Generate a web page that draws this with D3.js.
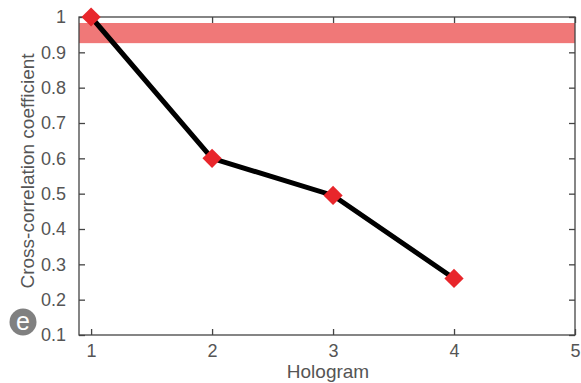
<!DOCTYPE html>
<html>
<head>
<meta charset="utf-8">
<script src="https://cdn.jsdelivr.net/npm/d3@7"></script>
<style>
  body { margin: 0; background: #fff; }
  text { font-family: "Liberation Sans", Arial, sans-serif; }
</style>
</head>
<body>
<svg id="chart" width="581" height="383"></svg>
<script>
// hologram index vs cross-correlation
const holograms = [1, 2, 3, 4];
const coeffs = [1.0, 0.6, 0.495, 0.26];
const xTicks = [1, 2, 3, 4, 5];
const yTicks = [0.1, 0.2, 0.3, 0.4, 0.5, 0.6, 0.7, 0.8, 0.9, 1];
const band = [0.926, 0.983];

const svg = d3.select("#chart");
const m = {left: 79, right: 6, top: 17, bottom: 48};
const W = 581, H = 383;

const x = d3.scaleLinear().domain([0.9, 5]).range([m.left, W - m.right]);
const y = d3.scaleLinear().domain([0.1, 1]).range([H - m.bottom, m.top]);

const axisCol = "#444", labCol = "#555";

// shaded band
svg.append("rect")
  .attr("x", x(0.9)).attr("width", x(5) - x(0.9))
  .attr("y", y(band[1])).attr("height", y(band[0]) - y(band[1]))
  .attr("fill", "#f07878");

// frame
svg.append("rect")
  .attr("x", x(0.9)).attr("y", y(1))
  .attr("width", x(5) - x(0.9)).attr("height", y(0.1) - y(1))
  .attr("fill", "none").attr("stroke", axisCol).attr("stroke-width", 1.3);

// axes (ticks inward)
const fmt = d => d === 1 ? "1" : d3.format(".1f")(d);
const gx = svg.append("g").attr("transform", `translate(0,${y(0.1)})`)
  .call(d3.axisBottom(x).tickValues(xTicks).tickSize(-6).tickPadding(9).tickFormat(d3.format("d")));
const gxt = svg.append("g").attr("transform", `translate(0,${y(1)})`)
  .call(d3.axisTop(x).tickValues(xTicks).tickSize(-6).tickFormat(""));
const gy = svg.append("g").attr("transform", `translate(${x(0.9)},0)`)
  .call(d3.axisLeft(y).tickValues(yTicks).tickSize(-6).tickPadding(13).tickFormat(fmt));
const gyr = svg.append("g").attr("transform", `translate(${x(5)},0)`)
  .call(d3.axisRight(y).tickValues(yTicks).tickSize(-6).tickFormat(""));

[gx, gxt, gy, gyr].forEach(g => {
  g.select(".domain").remove();
  g.selectAll("line").attr("stroke", axisCol).attr("stroke-width", 1.3);
  g.selectAll("text").attr("fill", labCol).style("font-size", "18px");
});

// line + markers
const line = d3.line().x((d, i) => x(holograms[i])).y(d => y(d));
svg.append("path").datum(coeffs)
  .attr("d", line).attr("fill", "none")
  .attr("stroke", "#000").attr("stroke-width", 5);

svg.selectAll(".pt").data(coeffs).join("path")
  .attr("class", "pt")
  .attr("d", d3.symbol(d3.symbolSquare, 185))
  .attr("transform", (d, i) => `translate(${x(holograms[i])},${y(d)}) rotate(45)`)
  .attr("fill", "#e8262b");

// axis labels
svg.append("text")
  .attr("x", 328).attr("y", 378)
  .attr("text-anchor", "middle").attr("fill", labCol)
  .style("font-size", "19px").text("Hologram");

svg.append("text")
  .attr("transform", "translate(34,171) rotate(-90)")
  .attr("text-anchor", "middle").attr("fill", labCol)
  .style("font-size", "19px").text("Cross-correlation coefficient");

// panel letter
svg.append("circle").attr("cx", 23).attr("cy", 322).attr("r", 13.5).attr("fill", "#808080");
svg.append("text").attr("x", 23).attr("y", 330)
  .attr("text-anchor", "middle").attr("fill", "#fff")
  .style("font-size", "25px").text("e");
</script>
</body>
</html>
